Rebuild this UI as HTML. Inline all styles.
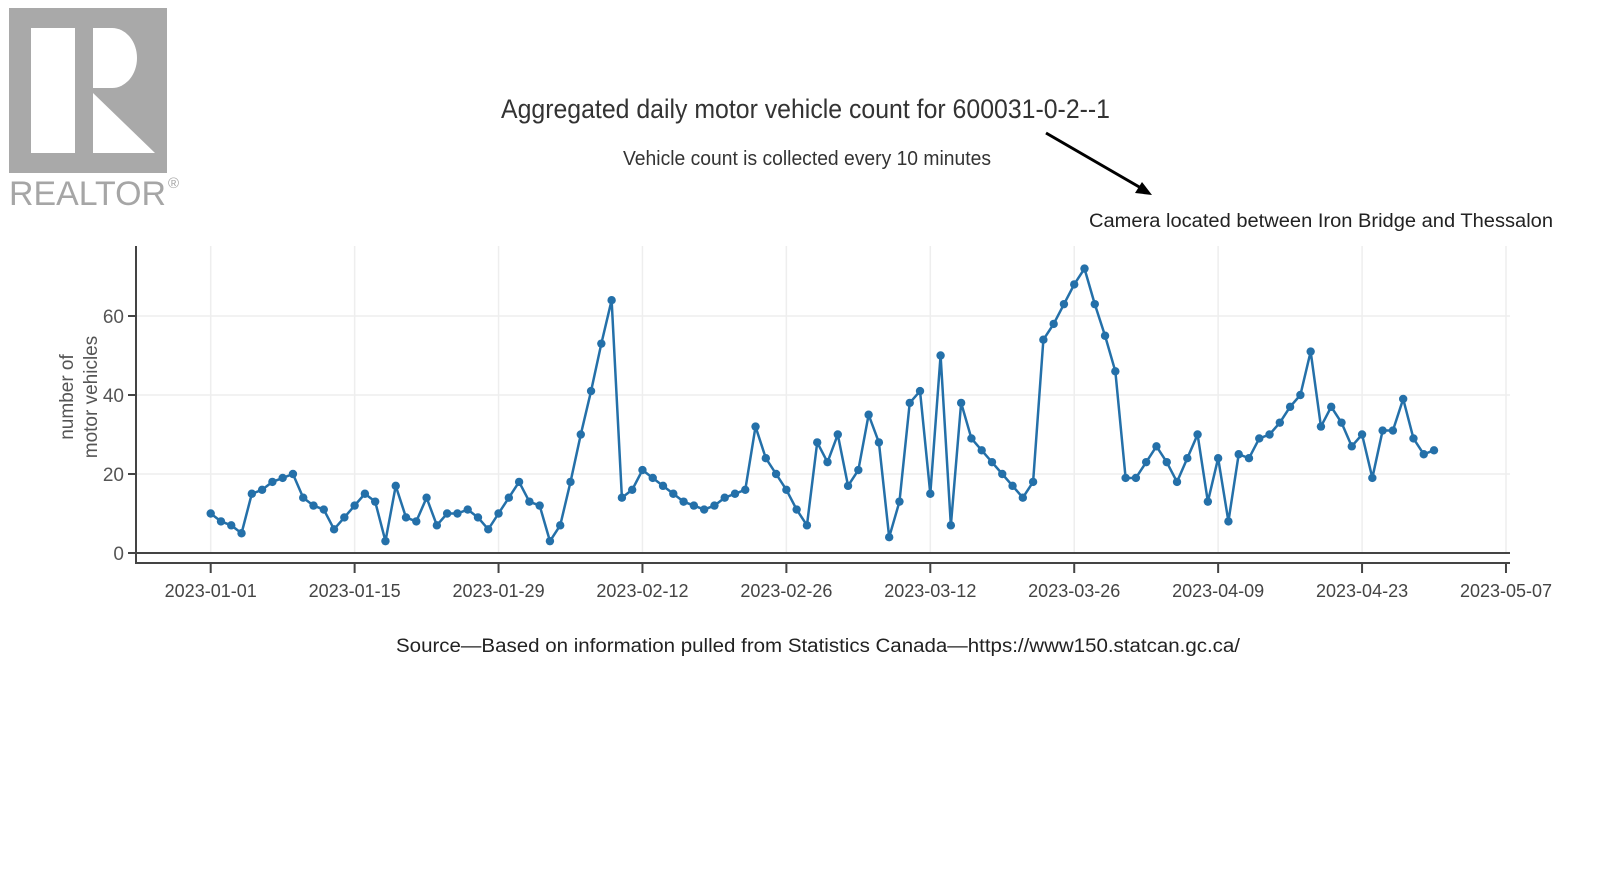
<!DOCTYPE html>
<html><head><meta charset="utf-8"><style>
html,body{margin:0;padding:0;background:#fff;}
svg{display:block;font-family:"Liberation Sans",Arial,sans-serif;}
</style></head><body>
<svg id="s" width="1600" height="874" viewBox="0 0 1600 874" xmlns="http://www.w3.org/2000/svg">
<rect x="9" y="8" width="158" height="165" fill="#a9a9a9"/>
<rect x="31" y="28" width="44" height="125" fill="#fff"/>
<path d="M93,28 H112 A25,30 0 0 1 112,88 H93 Z" fill="#fff"/>
<polygon points="93,93 155,153 93,153" fill="#fff"/>
<text x="9" y="205" font-size="34" fill="#a6a6a6" textLength="157" lengthAdjust="spacingAndGlyphs">REALTOR</text>
<text x="168" y="188" font-size="15" fill="#a6a6a6">®</text>
<text x="501" y="118" font-size="27" fill="#333" textLength="609" lengthAdjust="spacingAndGlyphs">Aggregated daily motor vehicle count for 600031-0-2--1</text>
<text x="623" y="165" font-size="20" fill="#333" textLength="368" lengthAdjust="spacingAndGlyphs">Vehicle count is collected every 10 minutes</text>
<line x1="1046" y1="133" x2="1141" y2="188" stroke="#000" stroke-width="3"/>
<polygon points="1152,195 1135,193 1142,182" fill="#000"/>
<text x="1089" y="227" font-size="19" fill="#222" textLength="464" lengthAdjust="spacingAndGlyphs">Camera located between Iron Bridge and Thessalon</text>
<text x="396" y="652" font-size="19" fill="#222" textLength="844" lengthAdjust="spacingAndGlyphs">Source—Based on information pulled from Statistics Canada—https://www150.statcan.gc.ca/</text>
<g id="grid"></g>
<line x1="136" y1="246" x2="136" y2="564" stroke="#444" stroke-width="2"/>
<line x1="136" y1="563" x2="1510" y2="563" stroke="#444" stroke-width="2"/>
<line x1="128" y1="553" x2="1510" y2="553" stroke="#444" stroke-width="2"/>
<g font-size="19" fill="#555" text-anchor="middle">
<text transform="translate(73,397) rotate(-90)">number of</text>
<text transform="translate(97,397) rotate(-90)">motor vehicles</text>
</g>
<g id="series"></g>
</svg>
<script>
var NS="http://www.w3.org/2000/svg";
function el(p,t,a){var e=document.createElementNS(NS,t);for(var k in a)e.setAttribute(k,a[k]);p.appendChild(e);return e;}
var g=document.getElementById('grid'),sr=document.getElementById('series');
var x0=210.7,st=10.28,y0=553,py=3.95;
[20,40,60].forEach(function(v){var y=y0-v*py;el(g,'line',{x1:137,y1:y,x2:1510,y2:y,stroke:'#eeeeee','stroke-width':1.5});
el(g,'line',{x1:128,y1:y,x2:136,y2:y,stroke:'#444','stroke-width':2});
var t=el(g,'text',{x:124,y:y+7,'font-size':19,fill:'#555','text-anchor':'end'});t.textContent=v;});
var t0=el(g,'text',{x:124,y:y0+7,'font-size':19,fill:'#555','text-anchor':'end'});t0.textContent='0';
var labs=['2023-01-01','2023-01-15','2023-01-29','2023-02-12','2023-02-26','2023-03-12','2023-03-26','2023-04-09','2023-04-23','2023-05-07'];
labs.forEach(function(l,i){var x=x0+i*14*st;el(g,'line',{x1:x,y1:246,x2:x,y2:552,stroke:'#eeeeee','stroke-width':1.5});
el(g,'line',{x1:x,y1:563,x2:x,y2:573,stroke:'#444','stroke-width':2});
var t=el(g,'text',{x:x,y:597,'font-size':18,fill:'#444','text-anchor':'middle'});t.textContent=l;});
var v=[10,8,7,5,15,16,18,19,20,14,12,11,6,9,12,15,13,3,17,9,8,14,7,10,10,11,9,6,10,14,18,13,12,3,7,18,30,41,53,64,
14,16,21,19,17,15,13,12,11,12,14,15,16,32,24,20,16,11,7,28,23,30,17,21,35,28,4,13,38,41,15,50,7,38,29,26,23,20,17,14,
18,54,58,63,68,72,63,55,46,19,19,23,27,23,18,24,30,13,24,8,25,24,29,30,33,37,40,51,32,37,33,27,30,19,31,31,39,29,25,26];
var pts=v.map(function(a,i){return [x0+i*st,y0-a*py];});
el(sr,'polyline',{points:pts.map(function(p){return p.join(',')}).join(' '),fill:'none',stroke:'#2470a9','stroke-width':2.5,'stroke-linejoin':'round'});
pts.forEach(function(p){el(sr,'circle',{cx:p[0],cy:p[1],r:4.2,fill:'#2470a9'});});
</script>
</body></html>
